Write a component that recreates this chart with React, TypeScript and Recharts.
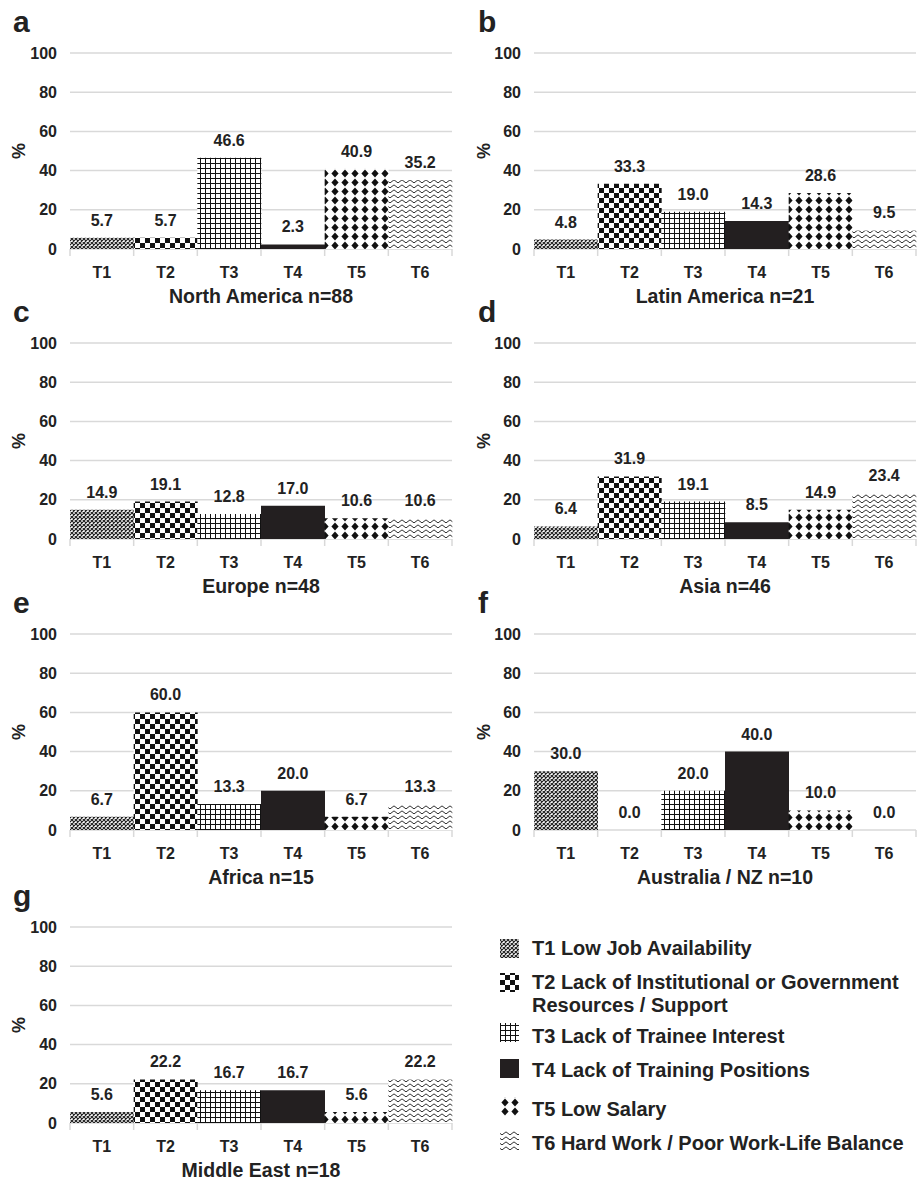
import React from 'react';
import { ComposedChart, Bar, Line, XAxis, YAxis, CartesianGrid, Cell, LabelList } from 'recharts';

const FONT = '"Liberation Sans", Arial, Helvetica, sans-serif';
const TEXT = '#222';
const GRID = '#d9d9d9';

const categories = ['T1', 'T2', 'T3', 'T4', 'T5', 'T6'];
const yTicks = [0, 20, 40, 60, 80, 100];

const northAmerica = [5.7, 5.7, 46.6, 2.3, 40.9, 35.2];
const latinAmerica = [4.8, 33.3, 19.0, 14.3, 28.6, 9.5];
const europe = [14.9, 19.1, 12.8, 17.0, 10.6, 10.6];
const asia = [6.4, 31.9, 19.1, 8.5, 14.9, 23.4];
const africa = [6.7, 60.0, 13.3, 20.0, 6.7, 13.3];
const australiaNZ = [30.0, 0.0, 20.0, 40.0, 10.0, 0.0];
const middleEast = [5.6, 22.2, 16.7, 16.7, 5.6, 22.2];

const panelValues = [northAmerica, latinAmerica, europe, asia, africa, australiaNZ, middleEast];
const panelLetters = ['a', 'b', 'c', 'd', 'e', 'f', 'g'];
const panelTitles = [
  'North America n=88',
  'Latin America n=21',
  'Europe n=48',
  'Asia n=46',
  'Africa n=15',
  'Australia / NZ n=10',
  'Middle East n=18',
];

const legendLines = [
  ['T1 Low Job Availability'],
  ['T2 Lack of Institutional or Government', 'Resources / Support'],
  ['T3 Lack of Trainee Interest'],
  ['T4 Lack of Training Positions'],
  ['T5 Low Salary'],
  ['T6 Hard Work / Poor Work-Life Balance'],
];

// layout
const ROW_TOP = [53, 343, 634, 927]; // y of the 100 gridline
const PLOT_H = 196;
const COL_LEFT = [0, 464];
const COL_W = [460, 455];
const COL_RIGHT_MARGIN = [8, 3];
const Y_AXIS_W = 70;
const PLOT_X = [70, 534];
const PLOT_W = 382;

const legendBaselines = [[955], [989, 1012], [1043], [1077], [1116], [1150]];
const legendIconTops = [939, 973, 1023, 1059, 1097, 1131];

const XTick = (props: any) => {
  const { x, y, payload, index } = props;
  const half = payload && payload.offset ? payload.offset : PLOT_W / 12;
  return (
    <g>
      <line x1={x - half} x2={x - half} y1={y} y2={y + 7} stroke={GRID} strokeWidth={1.5} />
      {index === categories.length - 1 && (
        <line x1={x + half} x2={x + half} y1={y} y2={y + 7} stroke={GRID} strokeWidth={1.5} />
      )}
      <text x={x} y={y + 29} textAnchor="middle" fontFamily={FONT} fontWeight={700} fontSize={16} fill={TEXT}>
        {payload.value}
      </text>
    </g>
  );
};

const Panel = ({ idx }: { idx: number }) => {
  const col = idx % 2;
  const row = Math.floor(idx / 2);
  const data = categories.map((c, i) => ({ cat: c, v: panelValues[idx][i] }));
  return (
    <div style={{ position: 'absolute', left: COL_LEFT[col], top: ROW_TOP[row] - 10 }}>
      <ComposedChart
        width={COL_W[col]}
        height={10 + PLOT_H + 40}
        data={data}
        margin={{ top: 10, right: COL_RIGHT_MARGIN[col], bottom: 0, left: 0 }}
        barCategoryGap={0}
        barGap={0}
      >
        <CartesianGrid vertical={false} stroke={GRID} strokeWidth={1.5} />
        <XAxis
          dataKey="cat"
          height={40}
          tickSize={0}
          tickMargin={0}
          axisLine={false}
          tickLine={false}
          interval={0}
          tick={<XTick />}
        />
        <YAxis
          domain={[0, 100]}
          ticks={yTicks}
          width={Y_AXIS_W}
          axisLine={false}
          tickLine={false}
          tickSize={0}
          tickMargin={13}
          interval={0}
          tick={{ fontSize: 16, fontWeight: 700, fill: TEXT, fontFamily: FONT }}
        />
        <Bar dataKey="v" isAnimationActive={false}>
          {data.map((d, i) => (
            <Cell key={i} fill={`url(#pat${i})`} />
          ))}
        </Bar>
        <Line dataKey="v" stroke="none" dot={false} activeDot={false} isAnimationActive={false} legendType="none">
          <LabelList
            dataKey="v"
            position="top"
            offset={12}
            formatter={(v: any) => Number(v).toFixed(1)}
            fill={TEXT}
            fontSize={16}
            fontWeight={700}
            fontFamily={FONT}
          />
        </Line>
      </ComposedChart>
    </div>
  );
};

const Patterns = () => (
  <defs>
    <pattern id="pat0" patternUnits="userSpaceOnUse" width={4} height={4}>
      <rect width={4} height={4} fill="#fff" />
      <path d="M0,0 L4,4 M4,0 L0,4" stroke="#222" strokeWidth={1.2} />
    </pattern>
    <pattern id="pat1" patternUnits="userSpaceOnUse" width={10} height={10}>
      <rect width={10} height={10} fill="#fff" />
      <rect x={0} y={0} width={5} height={5} fill="#111" />
      <rect x={5} y={5} width={5} height={5} fill="#111" />
    </pattern>
    <pattern id="pat2" patternUnits="userSpaceOnUse" width={5} height={5}>
      <rect width={5} height={5} fill="#fff" />
      <path d="M0.5,0 L0.5,5 M0,0.5 L5,0.5" stroke="#111" strokeWidth={1} />
    </pattern>
    <pattern id="pat3" patternUnits="userSpaceOnUse" width={10} height={10}>
      <rect width={10} height={10} fill="#231f20" />
    </pattern>
    <pattern id="pat4" patternUnits="userSpaceOnUse" width={10} height={9}>
      <rect width={10} height={9} fill="#fff" />
      <polygon points="5,0.5 8.6,4.5 5,8.5 1.4,4.5" fill="#111" />
    </pattern>
    <pattern id="pat5" patternUnits="userSpaceOnUse" width={8} height={5}>
      <rect width={8} height={5} fill="#fff" />
      <path d="M0,3.4 Q2,0.4 4,3.4 T8,3.4" stroke="#333" strokeWidth={1} fill="none" />
    </pattern>
  </defs>
);

const Overlay = () => (
  <svg
    width={919}
    height={1184}
    style={{ position: 'absolute', left: 0, top: 0, pointerEvents: 'none' }}
  >
    <Patterns />
    {panelLetters.map((letter, idx) => {
      const col = idx % 2;
      const row = Math.floor(idx / 2);
      const top = ROW_TOP[row];
      const zero = top + PLOT_H;
      const px = PLOT_X[col];
      return (
        <g key={letter}>
          <text x={col ? 478 : 13} y={top - 21} fontFamily={FONT} fontWeight={700} fontSize={30} fill={TEXT}>
            {letter}
          </text>
          <text
            transform={`translate(${col ? 490 : 25},${top + PLOT_H / 2}) rotate(-90)`}
            textAnchor="middle"
            fontFamily={FONT}
            fontWeight={700}
            fontSize={18}
            fill={TEXT}
          >
            %
          </text>
          <text
            x={px + PLOT_W / 2}
            y={zero + 54}
            textAnchor="middle"
            fontFamily={FONT}
            fontWeight={700}
            fontSize={19.5}
            fill={TEXT}
          >
            {panelTitles[idx]}
          </text>
        </g>
      );
    })}
    {legendLines.map((lines, i) => (
      <g key={i}>
        <rect x={500} y={legendIconTops[i]} width={19} height={19} fill={`url(#pat${i})`} />
        {lines.map((line, j) => (
          <text
            key={j}
            x={532}
            y={legendBaselines[i][j]}
            fontFamily={FONT}
            fontWeight={700}
            fontSize={20}
            fill={TEXT}
          >
            {line}
          </text>
        ))}
      </g>
    ))}
  </svg>
);

export default function App() {
  return (
    <div style={{ position: 'absolute', left: 0, top: 0, width: 919, height: 1184, background: '#fff', overflow: 'hidden' }}>
      {panelLetters.map((_, idx) => (
        <Panel key={idx} idx={idx} />
      ))}
      <Overlay />
    </div>
  );
}
